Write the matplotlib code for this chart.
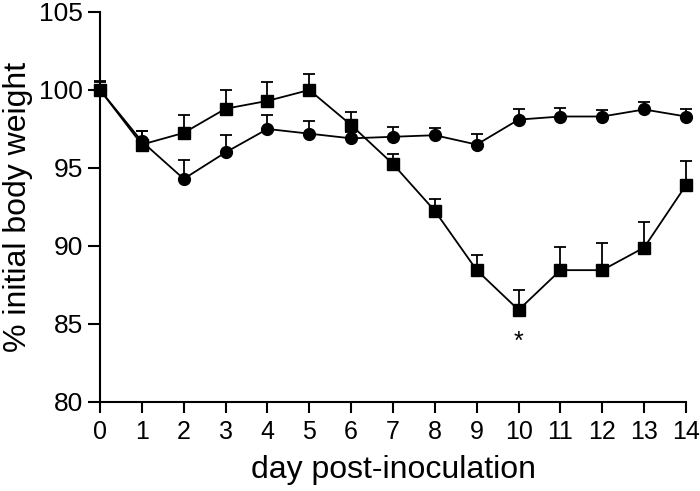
import matplotlib
matplotlib.use("Agg")
import matplotlib.pyplot as plt

plt.rcParams['font.family'] = ['Liberation Sans', 'DejaVu Sans']

days = list(range(15))
circle_mean = [100.0, 96.7, 94.3, 96.0, 97.5, 97.2, 96.9, 97.0, 97.1, 96.5, 98.1, 98.3, 98.3, 98.75, 98.3]
circle_err  = [0.6, 0.7, 1.2, 1.1, 0.9, 0.8, 0.4, 0.65, 0.45, 0.7, 0.7, 0.55, 0.4, 0.5, 0.45]
square_mean = [100.0, 96.5, 97.25, 98.8, 99.3, 100.0, 97.75, 95.25, 92.25, 88.45, 85.9, 88.45, 88.45, 89.9, 93.9]
square_err  = [0.5, 0.9, 1.15, 1.2, 1.2, 1.05, 0.85, 0.65, 0.75, 1.0, 1.3, 1.5, 1.75, 1.65, 1.55]
xticks = list(range(15))
yticks = [80, 85, 90, 95, 100, 105]

fig = plt.figure(figsize=(7.0, 4.91), dpi=100)
ax = fig.add_axes([0.1429, 0.1813, 0.98 - 0.1429, 0.9756 - 0.1813])

for mean, err, mk in [(circle_mean, circle_err, 'o'), (square_mean, square_err, 's')]:
    ax.errorbar(days, mean, yerr=[[0] * len(err), err], fmt='-', marker=mk,
                color='black', ms=8.5, lw=1.3, elinewidth=1.3, capsize=4.5,
                capthick=1.3, clip_on=False, zorder=3)

ax.annotate('*', xy=(10, square_mean[10]), xytext=(0, -14), textcoords='offset points',
            ha='center', va='top', fontsize=18)

ax.set_xlim(0, 14)
ax.set_ylim(80, 105)
ax.set_xticks(xticks)
ax.set_yticks(yticks)
ax.spines['top'].set_visible(False)
ax.spines['right'].set_visible(False)
for s in ['left', 'bottom']:
    ax.spines[s].set_linewidth(1.5)
ax.tick_params(axis='x', direction='out', length=8, width=1.5, labelsize=18, pad=5)
ax.tick_params(axis='y', direction='out', length=9, width=1.5, labelsize=19, pad=3)
ax.set_xlabel('day post-inoculation', fontsize=23, labelpad=8)
ax.set_ylabel('% initial body weight', fontsize=23, labelpad=5)

fig.savefig('out.png', dpi=100)
